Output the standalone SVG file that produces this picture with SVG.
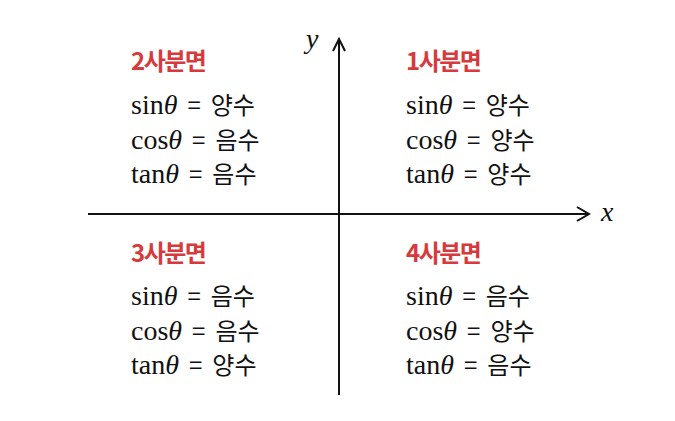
<svg xmlns="http://www.w3.org/2000/svg" width="675" height="421" viewBox="0 0 675 421">
<style>
.t{font-family:"Noto Sans CJK KR","Noto Sans",sans-serif;font-weight:bold;font-size:24px;fill:#d63a3c;letter-spacing:-1.5px}
.e{font-family:"Liberation Serif",serif;font-size:28px;fill:#111}
.th{font-style:italic}
.eq{font-family:"Noto Sans CJK KR","Noto Sans",sans-serif;font-size:24px}
.ax{stroke:#111;stroke-width:2;fill:none}
.lbl{font-family:"Liberation Serif",serif;font-style:italic;font-size:28px;fill:#111}
</style>
<rect width="675" height="421" fill="#fff"/>
<g id="axes">
<line class="ax" x1="88" y1="214" x2="589" y2="214"/>
<polyline class="ax" points="577,207 589,214 577,221"/>
<line class="ax" x1="339" y1="395" x2="339" y2="39"/>
<polyline class="ax" points="333,51 339,39 345,51"/>
<text class="lbl" x="306" y="48">y</text>
<text class="lbl" x="601" y="221">x</text>
</g>
<g id="q2">
<text class="t" x="131" y="70">2사분면</text>
<text class="e" x="131" y="114">sin<tspan class="th">θ</tspan><tspan class="eq" dx="10">=</tspan><tspan class="eq" dx="10">양수</tspan></text>
<text class="e" x="131" y="149">cos<tspan class="th">θ</tspan><tspan class="eq" dx="10">=</tspan><tspan class="eq" dx="10">음수</tspan></text>
<text class="e" x="131" y="183">tan<tspan class="th">θ</tspan><tspan class="eq" dx="10">=</tspan><tspan class="eq" dx="10">음수</tspan></text>
</g>
<g id="q1">
<text class="t" x="406" y="70">1사분면</text>
<text class="e" x="406" y="114">sin<tspan class="th">θ</tspan><tspan class="eq" dx="10">=</tspan><tspan class="eq" dx="10">양수</tspan></text>
<text class="e" x="406" y="149">cos<tspan class="th">θ</tspan><tspan class="eq" dx="10">=</tspan><tspan class="eq" dx="10">양수</tspan></text>
<text class="e" x="406" y="183">tan<tspan class="th">θ</tspan><tspan class="eq" dx="10">=</tspan><tspan class="eq" dx="10">양수</tspan></text>
</g>
<g id="q3">
<text class="t" x="131" y="262">3사분면</text>
<text class="e" x="131" y="305">sin<tspan class="th">θ</tspan><tspan class="eq" dx="10">=</tspan><tspan class="eq" dx="10">음수</tspan></text>
<text class="e" x="131" y="340">cos<tspan class="th">θ</tspan><tspan class="eq" dx="10">=</tspan><tspan class="eq" dx="10">음수</tspan></text>
<text class="e" x="131" y="374">tan<tspan class="th">θ</tspan><tspan class="eq" dx="10">=</tspan><tspan class="eq" dx="10">양수</tspan></text>
</g>
<g id="q4">
<text class="t" x="406" y="262">4사분면</text>
<text class="e" x="406" y="305">sin<tspan class="th">θ</tspan><tspan class="eq" dx="10">=</tspan><tspan class="eq" dx="10">음수</tspan></text>
<text class="e" x="406" y="340">cos<tspan class="th">θ</tspan><tspan class="eq" dx="10">=</tspan><tspan class="eq" dx="10">양수</tspan></text>
<text class="e" x="406" y="374">tan<tspan class="th">θ</tspan><tspan class="eq" dx="10">=</tspan><tspan class="eq" dx="10">음수</tspan></text>
</g>
</svg>
